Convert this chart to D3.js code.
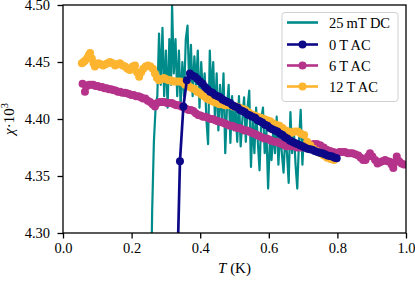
<!DOCTYPE html>
<html>
<head>
<meta charset="utf-8">
<script src="https://cdn.jsdelivr.net/npm/d3@7"></script>
<style>
  body { margin: 0; background: #fff; }
  svg { display: block; font-family: "Liberation Serif", "DejaVu Serif", serif; }
  svg text { font-family: "Liberation Serif", "DejaVu Serif", serif !important; }
</style>
</head>
<body>
<svg id="chart" width="415" height="282"></svg>
<script>
// series names, legend order
var seriesNames = ['25\u2009mT DC', '0\u2009T AC', '6\u2009T AC', '12\u2009T AC'];

// 25 mT DC (noisy trace)
var dcT = [0.255,0.260,0.265,0.270,0.275,0.280,0.285,0.290,0.295,0.300,0.305,0.310,0.315,0.318,0.323,0.328,0.333,0.338,0.343,0.348,
  0.353,0.358,0.363,0.368,0.373,0.378,0.383,0.388,0.393,0.398,0.403,0.408,0.413,0.418,0.423,0.428,0.433,0.438,0.443,0.448,
  0.453,0.458,0.463,0.468,0.473,0.478,0.483,0.488,0.493,0.498,0.503,0.508,0.513,0.518,0.523,0.528,0.533,0.538,0.543,0.548,
  0.553,0.558,0.563,0.568,0.573,0.578,0.583,0.588,0.593,0.598,0.603,0.608,0.613,0.618,0.623,0.628,0.633,0.638,0.643,0.648,
  0.653,0.658,0.663,0.668,0.673,0.678,0.683,0.688,0.693,0.698,0.702];
var dcChi = [4.22,4.32,4.38,4.41,4.42,4.475,4.43,4.48,4.42,4.46,4.41,4.47,4.43,4.50,4.44,4.47,4.42,4.46,4.41,4.45,
  4.42,4.47,4.482,4.43,4.465,4.42,4.455,4.43,4.46,4.41,4.45,4.42,4.44,4.40,4.378,4.46,4.42,4.45,4.40,4.44,
  4.39,4.43,4.40,4.44,4.37,4.41,4.43,4.379,4.42,4.39,4.41,4.38,4.42,4.376,4.40,4.419,4.38,4.41,4.425,4.358,
  4.40,4.37,4.41,4.38,4.355,4.40,4.41,4.37,4.39,4.339,4.38,4.364,4.39,4.37,4.402,4.36,4.39,4.37,4.353,4.385,
  4.37,4.344,4.406,4.37,4.39,4.36,4.339,4.38,4.408,4.36,4.385];

// 0 T AC
var ac0T = [0.328,0.341,0.351,0.361,0.370,0.378,0.385,0.392,0.399,0.407,0.414,0.421,0.429,0.436,0.443,0.451,0.458,0.465,0.472,0.480,
  0.487,0.494,0.501,0.509,0.516,0.523,0.530,0.538,0.545,0.552,0.560,0.567,0.574,0.581,0.589,0.596,0.603,0.610,0.618,0.625,
  0.633,0.640,0.647,0.654,0.662,0.669,0.676,0.683,0.691,0.698,0.705,0.713,0.720,0.727,0.734,0.742,0.749,0.756,0.763,0.771,
  0.778,0.785,0.792,0.798];
var ac0Chi = [4.200,4.363,4.411,4.434,4.440,4.438,4.437,4.435,4.433,4.431,4.428,4.426,4.424,4.423,4.421,4.420,4.419,4.417,4.416,4.415,
  4.414,4.412,4.411,4.410,4.408,4.407,4.406,4.404,4.403,4.402,4.401,4.399,4.398,4.397,4.395,4.394,4.392,4.391,4.390,4.389,
  4.387,4.386,4.384,4.383,4.381,4.380,4.379,4.378,4.377,4.376,4.375,4.374,4.3735,4.373,4.372,4.371,4.3705,4.370,4.369,4.368,
  4.3675,4.367,4.366,4.3655];

// 6 T AC
var ac6T = [0.057,0.064,0.070,0.076,0.082,0.088,0.095,0.101,0.108,0.114,0.121,0.127,0.134,0.140,0.146,0.153,0.160,0.166,0.173,0.180,
  0.186,0.193,0.199,0.206,0.213,0.220,0.227,0.233,0.240,0.247,0.254,0.261,0.268,0.275,0.282,0.289,0.296,0.303,0.310,0.317,
  0.324,0.331,0.338,0.345,0.352,0.359,0.366,0.373,0.380,0.387,0.394,0.401,0.408,0.415,0.422,0.430,0.437,0.444,0.451,0.458,
  0.465,0.472,0.480,0.487,0.494,0.501,0.508,0.515,0.522,0.529,0.536,0.543,0.550,0.558,0.565,0.572,0.579,0.587,0.594,0.601,
  0.608,0.616,0.623,0.630,0.637,0.645,0.652,0.662,0.672,0.682,0.692,0.702,0.712,0.722,0.731,0.740,0.750,0.760,0.769,0.779,
  0.788,0.798,0.806,0.814,0.822,0.830,0.837,0.844,0.852,0.861,0.868,0.875,0.882,0.889,0.895,0.902,0.910,0.917,0.924,0.931,
  0.939,0.946,0.953,0.958,0.963,0.968,0.973,0.980,0.987,0.994];
var ac6Chi = [4.431,4.424,4.429,4.430,4.430,4.430,4.429,4.429,4.428,4.428,4.427,4.427,4.426,4.426,4.4255,4.425,4.424,4.424,4.423,4.423,
  4.4225,4.422,4.421,4.421,4.420,4.420,4.419,4.418,4.418,4.416,4.415,4.413,4.411,4.414,4.415,4.415,4.415,4.414,4.414,4.414,
  4.413,4.412,4.412,4.411,4.410,4.409,4.408,4.408,4.407,4.405,4.4035,4.403,4.402,4.402,4.401,4.400,4.400,4.399,4.398,4.3976,
  4.397,4.396,4.395,4.394,4.394,4.393,4.392,4.392,4.391,4.390,4.390,4.389,4.388,4.387,4.386,4.385,4.384,4.383,4.383,4.382,
  4.381,4.380,4.380,4.379,4.378,4.377,4.376,4.376,4.376,4.375,4.375,4.375,4.376,4.377,4.378,4.378,4.377,4.375,4.373,4.372,
  4.371,4.370,4.371,4.371,4.371,4.370,4.370,4.370,4.369,4.368,4.366,4.364,4.364,4.367,4.370,4.367,4.364,4.361,4.362,4.363,
  4.364,4.363,4.3625,4.360,4.357,4.362,4.367,4.363,4.361,4.360];

// 12 T AC
var ac12T = [0.055,0.060,0.064,0.070,0.075,0.079,0.084,0.089,0.093,0.098,0.103,0.110,0.117,0.124,0.130,0.137,0.145,0.152,0.159,0.166,
  0.174,0.181,0.188,0.195,0.203,0.210,0.216,0.222,0.228,0.234,0.241,0.248,0.255,0.262,0.268,0.274,0.280,0.287,0.294,0.300,
  0.307,0.314,0.321,0.328,0.335,0.342,0.349,0.356,0.363,0.370,0.377,0.384,0.391,0.398,0.405,0.412,0.419,0.426,0.433,0.440,
  0.448,0.456,0.464,0.472,0.480,0.488,0.496,0.505,0.514,0.523,0.532,0.541,0.550,0.559,0.568,0.577,0.586,0.595,0.604,0.613,
  0.622,0.631,0.640,0.649,0.658,0.667,0.676,0.685,0.694,0.703,0.712,0.721,0.730,0.740,0.750,0.760,0.770,0.780,0.790];
var ac12Chi = [4.449,4.450,4.451,4.453,4.456,4.458,4.453,4.449,4.446,4.448,4.449,4.448,4.447,4.448,4.449,4.450,4.449,4.447,4.448,4.449,
  4.447,4.446,4.444,4.443,4.446,4.447,4.441,4.437,4.441,4.444,4.446,4.447,4.446,4.444,4.440,4.436,4.434,4.435,4.436,4.435,
  4.434,4.434,4.433,4.433,4.433,4.433,4.432,4.430,4.430,4.428,4.427,4.426,4.424,4.423,4.421,4.420,4.418,4.417,4.416,4.415,
  4.414,4.413,4.413,4.412,4.412,4.412,4.411,4.411,4.410,4.409,4.408,4.406,4.404,4.403,4.402,4.401,4.400,4.399,4.398,4.396,
  4.395,4.394,4.392,4.390,4.389,4.388,4.389,4.389,4.387,4.386,4.380,4.377,4.374,4.372,4.370,4.368,4.366,4.365,4.364];

var xTicks = [0.0, 0.2, 0.4, 0.6, 0.8, 1.0];
var yTicks = [4.30, 4.35, 4.40, 4.45, 4.50];

var colors = ['#008b8b', '#0d0887', '#b5338a', '#fdb42f'];

(function () {
    var svg = d3.select('#chart'),
        pLeft = 63, pRight = 406, pTop = 5, pBottom = 233;

    var x = d3.scaleLinear().domain([0, 1]).range([pLeft, pRight]),
        y = d3.scaleLinear().domain([4.30, 4.50]).range([pBottom, pTop]);

    function zip(ts, vs) {
        return ts.map(function (t, i) { return {t: t, v: vs[i]}; });
    }

    var series = [
        {name: seriesNames[0], color: colors[0], data: zip(dcT, dcChi), markers: false, z: 0},
        {name: seriesNames[1], color: colors[1], data: zip(ac0T, ac0Chi), markers: true, z: 3},
        {name: seriesNames[2], color: colors[2], data: zip(ac6T, ac6Chi), markers: true, z: 1},
        {name: seriesNames[3], color: colors[3], data: zip(ac12T, ac12Chi), markers: true, z: 2}
    ];

    svg.append('defs').append('clipPath').attr('id', 'plotclip')
        .append('rect')
        .attr('x', pLeft).attr('y', pTop)
        .attr('width', pRight - pLeft).attr('height', pBottom - pTop);

    var plot = svg.append('g').attr('clip-path', 'url(#plotclip)');

    var line = d3.line()
        .x(function (d) { return x(d.t); })
        .y(function (d) { return y(d.v); });

    // draw in z order: DC trace under the AC data, 0 T on top
    series.slice().sort(function (a, b) { return a.z - b.z; }).forEach(function (s) {
        var g = plot.append('g');
        g.append('path')
            .datum(s.data)
            .attr('d', line)
            .attr('fill', 'none')
            .attr('stroke', s.color)
            .attr('stroke-width', s.markers ? 2.7 : 2.2)
            .attr('stroke-linejoin', 'round');
        if (s.markers) {
            g.selectAll('circle')
                .data(s.data)
                .enter().append('circle')
                .attr('cx', function (d) { return x(d.t); })
                .attr('cy', function (d) { return y(d.v); })
                .attr('r', 4)
                .attr('fill', s.color);
        }
    });

    // axes
    var xAxis = d3.axisBottom(x).tickValues(xTicks).tickFormat(d3.format('.1f'))
        .tickSizeInner(5.5).tickSizeOuter(0).tickPadding(4);
    var yAxis = d3.axisLeft(y).tickValues(yTicks).tickFormat(d3.format('.2f'))
        .tickSizeInner(5.5).tickSizeOuter(0).tickPadding(7.5);

    function styleAxis(g) {
        g.attr('font-size', 14.5);
        g.select('.domain').remove();
        g.selectAll('.tick line').attr('stroke', '#000').attr('stroke-width', 1.3);
        g.selectAll('.tick text').attr('fill', '#000');
    }

    svg.append('g')
        .attr('transform', 'translate(0,' + pBottom + ')')
        .call(xAxis)
        .call(styleAxis);
    svg.append('g')
        .attr('transform', 'translate(' + pLeft + ',0)')
        .call(yAxis)
        .call(styleAxis);

    // frame
    svg.append('rect')
        .attr('x', pLeft).attr('y', pTop)
        .attr('width', pRight - pLeft).attr('height', pBottom - pTop)
        .attr('fill', 'none').attr('stroke', '#000').attr('stroke-width', 1.3);

    // axis labels
    var xl = svg.append('text')
        .attr('x', (pLeft + pRight) / 2).attr('y', 273)
        .attr('text-anchor', 'middle')
        .style('font-size', '15px');
    xl.append('tspan').style('font-style', 'italic').text('T');
    xl.append('tspan').text(' (K)');

    var yl = svg.append('text')
        .attr('transform', 'translate(14,' + ((pTop + pBottom) / 2) + ') rotate(-90)')
        .attr('text-anchor', 'middle')
        .style('font-size', '15px');
    yl.append('tspan').style('font-style', 'italic').text('\u03c7');
    yl.append('tspan').text('\u00b710');
    yl.append('tspan').attr('dy', -6).style('font-size', '10.5px').text('3');

    // legend
    var lg = svg.append('g');
    lg.append('rect')
        .attr('x', 282).attr('y', 12.5)
        .attr('width', 116).attr('height', 89)
        .attr('rx', 3)
        .attr('fill', '#fff').attr('fill-opacity', 0.85)
        .attr('stroke', '#d0d0d0').attr('stroke-width', 1);

    var rowY = [22.5, 44.5, 65.5, 86.5];
    series.forEach(function (s, i) {
        var r = lg.append('g').attr('transform', 'translate(0,' + rowY[i] + ')');
        r.append('line')
            .attr('x1', 287).attr('x2', 318)
            .attr('stroke', s.color).attr('stroke-width', 2.6);
        if (s.markers) {
            r.append('circle').attr('cx', 302.5).attr('cy', 0).attr('r', 4).attr('fill', s.color);
        }
        r.append('text')
            .attr('x', 329).attr('y', 5)
            .style('font-size', '14.5px')
            .text(s.name);
    });
}());
</script>
</body>
</html>
